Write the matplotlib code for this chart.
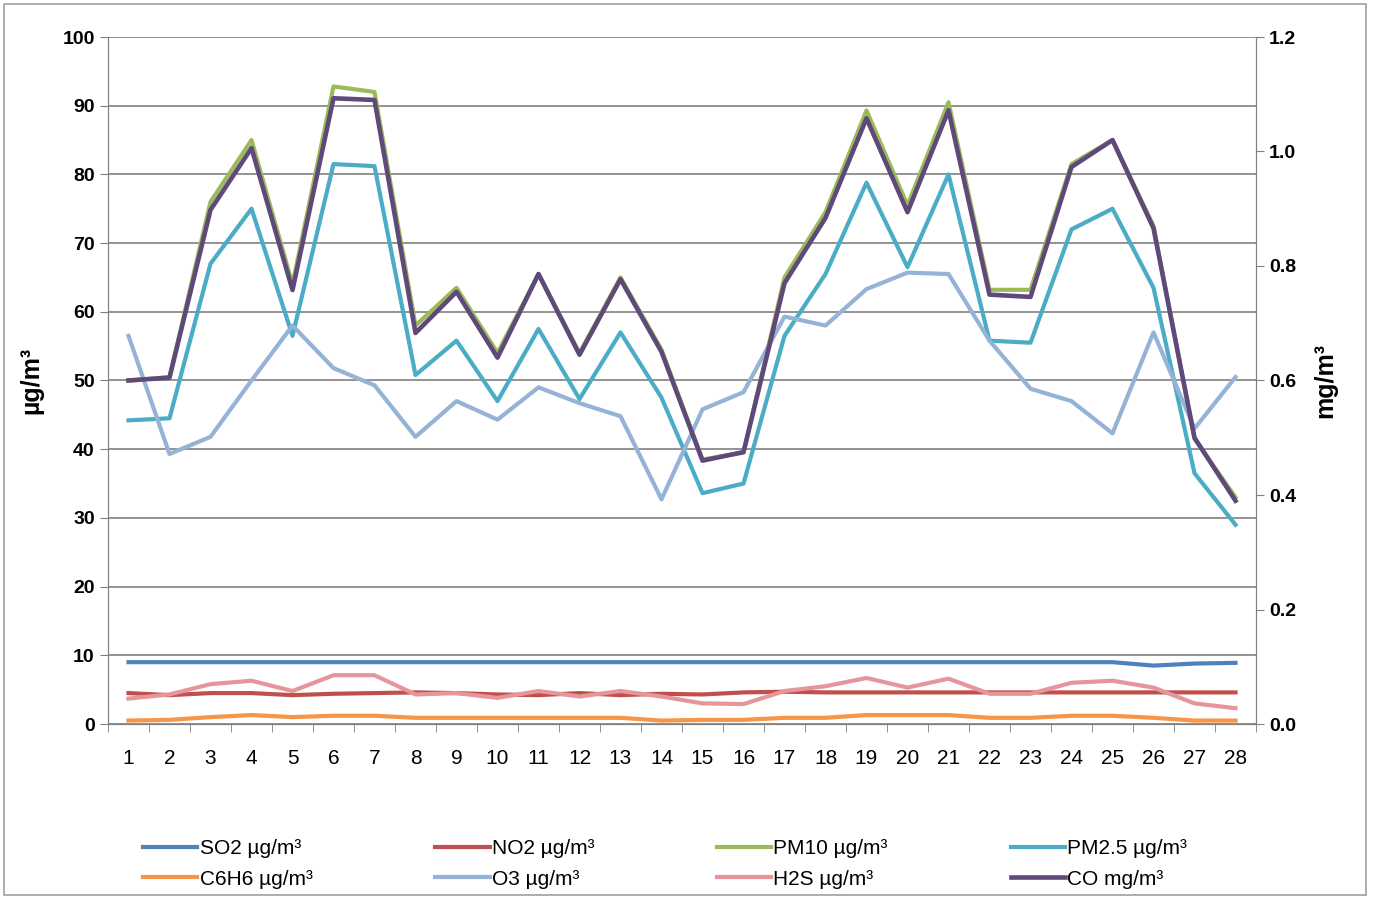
import matplotlib.pyplot as plt
from matplotlib.patches import Rectangle

days = list(range(1, 29))

so2 = [9.0] * 25 + [8.5, 8.8, 8.9]
no2 = [4.5, 4.2, 4.5, 4.5, 4.2, 4.4, 4.5, 4.6, 4.5, 4.3, 4.2, 4.5, 4.2, 4.4,
       4.3, 4.6, 4.7, 4.6, 4.6, 4.6, 4.6, 4.6, 4.6, 4.6, 4.6, 4.6, 4.6, 4.6]
pm10 = [50.0, 50.5, 76.0, 85.0, 64.0, 92.8, 92.0, 58.0, 63.5, 54.0, 65.5, 54.0, 65.0, 54.5,
        38.5, 39.5, 65.0, 74.5, 89.3, 75.5, 90.5, 63.2, 63.2, 81.5, 85.0, 72.5, 41.5, 33.0]
pm25 = [44.2, 44.5, 67.0, 75.0, 56.5, 81.5, 81.2, 50.8, 55.8, 47.0, 57.5, 47.3, 57.0, 47.5,
        33.6, 35.0, 56.5, 65.5, 78.8, 66.5, 80.0, 55.8, 55.5, 72.0, 75.0, 63.5, 36.5, 29.0]
c6h6 = [0.5, 0.6, 1.0, 1.3, 1.0, 1.2, 1.2, 0.9, 0.9, 0.9, 0.9, 0.9, 0.9, 0.5,
        0.6, 0.6, 0.9, 0.9, 1.3, 1.3, 1.3, 0.9, 0.9, 1.2, 1.2, 0.9, 0.5, 0.5]
o3 = [56.5, 39.3, 41.8, 50.0, 58.0, 51.8, 49.3, 41.8, 47.0, 44.3, 49.0, 46.7, 44.8, 32.7,
      45.8, 48.3, 59.3, 58.0, 63.3, 65.7, 65.5, 55.8, 48.8, 47.0, 42.3, 57.0, 43.0, 50.5]
h2s = [3.7, 4.3, 5.8, 6.3, 4.8, 7.1, 7.1, 4.3, 4.5, 3.8, 4.8, 4.0, 4.8, 4.0,
       3.0, 2.9, 4.8, 5.5, 6.7, 5.3, 6.6, 4.4, 4.4, 6.0, 6.3, 5.3, 3.0, 2.3]
co = [0.600, 0.605, 0.898, 1.006, 0.758, 1.093, 1.090, 0.683, 0.755, 0.640, 0.786, 0.645,
      0.777, 0.650, 0.460, 0.475, 0.770, 0.884, 1.058, 0.894, 1.072, 0.750, 0.746, 0.973,
      1.020, 0.866, 0.500, 0.390]

plt.rcParams['font.family'] = ['Liberation Sans', 'DejaVu Sans']

fig = plt.figure(figsize=(13.73, 8.97), dpi=100)
ax = fig.add_axes([108 / 1373, 1 - 724 / 897, 1148 / 1373, 687 / 897])
ax2 = ax.twinx()

lw = 3.0
ax.plot(days, so2, color='#4F81BD', lw=lw, label='SO2 µg/m³')
ax.plot(days, no2, color='#C0504D', lw=lw, label='NO2 µg/m³')
ax.plot(days, pm10, color='#9BBB59', lw=lw, label='PM10 µg/m³')
ax.plot(days, pm25, color='#4BACC6', lw=lw, label='PM2.5 µg/m³')
ax.plot(days, c6h6, color='#F79646', lw=lw, label='C6H6 µg/m³')
ax.plot(days, o3, color='#95B3D7', lw=lw, label='O3 µg/m³')
ax.plot(days, h2s, color='#E6959A', lw=lw, label='H2S µg/m³')
ax2.plot(days, co, color='#5F497A', lw=lw + 0.3, label='CO mg/m³')

ax.set_xlim(0.5, 28.5)
ax.set_ylim(0, 100)
ax2.set_ylim(0, 1.2)
ax.set_yticks(range(0, 101, 10))
ax2.set_yticks([0, 0.2, 0.4, 0.6, 0.8, 1.0, 1.2])
ax2.set_yticklabels(['0.0', '0.2', '0.4', '0.6', '0.8', '1.0', '1.2'])

ax.set_xticks(days)
ax.set_xticklabels([str(d) for d in days])
ax.set_xticks([d + 0.5 for d in range(0, 29)], minor=True)
ax.tick_params(axis='x', which='major', length=0, labelsize=15, pad=18)
ax.tick_params(axis='x', which='minor', length=6, color='#808080')
ax.tick_params(axis='y', length=6, color='#808080', labelsize=14)
ax2.tick_params(axis='y', length=6, color='#808080', labelsize=14)
for lab in ax.get_yticklabels() + ax2.get_yticklabels():
    lab.set_fontweight('bold')

ax.grid(axis='y', color='#808080', lw=1.2)
ax.set_axisbelow(True)
for a in (ax, ax2):
    a.spines['top'].set_visible(False)
    for s in ('left', 'right', 'bottom'):
        a.spines[s].set_color('#808080')

ax.set_ylabel('µg/m³', fontsize=18, fontweight='bold', labelpad=14)
ax2.set_ylabel('mg/m³', fontsize=18, fontweight='bold', labelpad=12)

h1, l1 = ax.get_legend_handles_labels()
h2, l2 = ax2.get_legend_handles_labels()
handles = h1 + h2
labels = l1 + l2
# row-major order like Excel
order = [0, 4, 1, 5, 2, 6, 3, 7]
fig.legend([handles[i] for i in order], [labels[i] for i in order],
           loc='center', bbox_to_anchor=(665 / 1373, 1 - 864 / 897), ncol=4,
           frameon=False, fontsize=15, handlelength=2.6, handletextpad=0.1,
           columnspacing=5.9, labelspacing=0.55)

fig.patches.append(Rectangle((4 / 1373, 0.002), 1362 / 1373, 0.994, transform=fig.transFigure,
                             fill=False, edgecolor='#A0A0A0', lw=1.2))

fig.savefig('out.png', dpi=100)
